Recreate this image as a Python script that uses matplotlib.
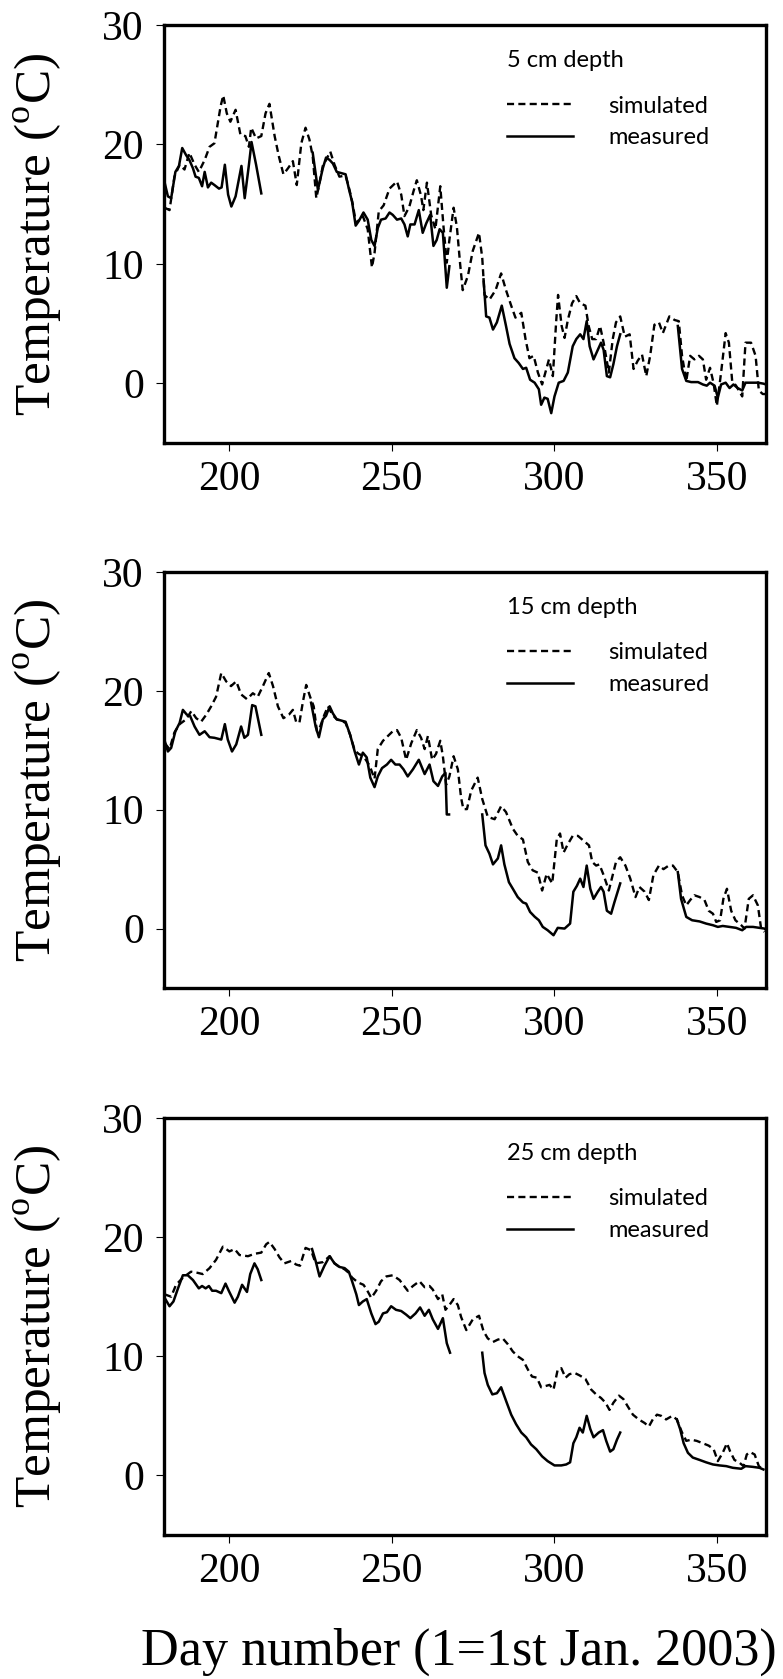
import numpy as np
import matplotlib.pyplot as plt

plt.rcParams['font.family'] = ['Liberation Serif', 'DejaVu Serif']
plt.rcParams['mathtext.fontset'] = 'custom'
plt.rcParams['mathtext.rm'] = 'Liberation Serif'

nan = float('nan')

depths = ["5 cm depth", "15 cm depth", "25 cm depth"]

# ---- 5 cm ----
sim_day_5 = [180.2, 181.7, 183.2, 184.8, 186.3, 187.8, 189.4, 190.7, 192.5, 194.0, 195.5, 197.4, 198.2, 199.3,
             200.4, 202.0, 203.5, 205.0, 206.1, 206.8, 208.3, 209.9, 211.2, 212.4, 214.0, 215.3, 216.7, 218.1,
             219.6, 220.8, 222.2, 223.5, 224.7, 225.7, 226.8, 227.6, 228.8, 229.8, 231.1, 232.4, 233.9, 235.8,
             237.0, 238.0, 239.0, 240.0, 241.1, 242.6, 243.9, 244.7, 246.0, 247.5, 249.3, 251.6, 252.9, 253.9,
             255.4, 256.7, 257.7, 259.0, 259.7, 260.8, 262.1, 263.4, 264.9, 265.9, 266.9, 267.7, 269.0, 270.0,
             271.0, 271.8, 273.4, 274.9, 276.8, 277.8, 278.5, 280.0, 281.9, 283.6, 285.1, 286.7, 288.0, 289.8,
             291.1, 292.3, 293.6, 294.9, 296.2, 297.2, 298.3, 299.5, 300.5, 301.1, 302.2, 303.1, 304.1, 305.4,
             306.7, 307.9, 309.5, 310.5, 311.6, 312.8, 314.0, 315.1, 316.7, 317.9, 318.9, 320.2, 321.6, 323.1,
             324.3, 325.6, 326.9, 328.2, 329.4, 330.7, 332.1, 333.3, 334.3, 335.3, 336.9, 338.2, 339.2, 340.5,
             341.7, 343.0, 344.4, 345.6, 346.6, 347.8, 348.9, 349.9, 351.2, 352.6, 353.6, 354.6, 355.8, 357.7,
             358.7, 360.4, 361.8, 362.8, 364.0, 365.0]
sim_t_5 = [14.7, 14.5, 17.3, 18.3, 17.9, 19.3, 18.3, 17.7, 18.7, 19.8, 20.1, 23.2, 24.1, 22.6,
           21.9, 22.9, 20.8, 20.7, 19.8, 21.4, 20.5, 20.7, 22.6, 23.4, 20.7, 19.0, 17.5, 18.0,
           18.6, 16.6, 20.1, 21.4, 20.4, 19.0, 15.5, 16.5, 18.2, 18.7, 19.4, 18.3, 17.3, 17.4,
           16.2, 15.0, 13.4, 13.7, 14.0, 12.9, 9.7, 10.9, 14.4, 14.9, 16.3, 16.9, 15.8, 14.0,
           14.8, 16.1, 17.0, 15.7, 14.5, 16.8, 14.1, 12.9, 16.5, 13.1, 10.1, 12.0, 14.7, 13.1,
           10.0, 7.8, 9.0, 11.1, 12.6, 10.5, 7.4, 7.0, 7.8, 9.2, 7.8, 6.5, 5.5, 5.9,
           3.7, 2.1, 2.3, 0.9, -0.1, 0.9, 2.0, 0.6, 5.1, 7.4, 4.8, 3.8, 5.3, 6.7,
           7.3, 6.7, 6.5, 4.8, 3.7, 3.7, 4.8, 3.4, 0.9, 3.7, 5.1, 5.6, 3.9, 4.1,
           1.2, 1.9, 2.4, 0.6, 2.3, 4.9, 5.1, 4.2, 4.9, 5.6, 5.3, 5.2, 2.3, 0.2,
           2.3, 2.0, 2.3, 2.0, 0.3, 1.3, 0.0, -1.9, 0.9, 4.2, 3.4, 0.2, -0.2, -1.1,
           3.4, 3.4, 2.3, -0.6, -0.9, -0.9]
meas_day_5 = [180.2, 181.2, 182.2, 183.5, 184.6, 185.6, 186.8, 187.8, 188.9, 189.7, 190.7, 191.7, 192.5, 193.5,
              194.5, 195.5, 196.9, 197.7, 198.7, 199.7, 200.7, 202.0, 203.8, 204.8, 206.1, 206.9, 208.3, 209.9,
              nan,
              225.7, 227.3, 228.8, 229.8, 230.9, 231.9, 233.1, 234.5, 235.8, 236.8, 237.8, 238.9, 239.9, 241.3,
              242.6, 243.7, 244.7, 245.7, 246.7, 248.1, 249.3, 250.3, 251.6, 252.9, 253.9, 254.9, 255.7, 257.0,
              258.3, 259.5, 260.6, 261.8, 262.8, 263.8, 264.7, 265.7, 266.9, 267.7,
              nan,
              278.2, 279.0, 280.0, 281.1, 282.3, 283.8, 285.1, 286.2, 287.7, 289.0, 290.3, 291.3, 292.5, 293.9,
              295.2, 295.9, 296.9, 297.9, 299.0, 300.0, 301.3, 302.8, 304.1, 305.6, 306.7, 307.9, 308.9, 309.9,
              310.8, 312.0, 313.0, 314.3, 315.1, 316.1, 317.1, 318.1, 319.2, 320.2,
              nan,
              337.9, 339.2, 340.5, 342.0, 344.1, 345.6, 346.8, 347.8, 349.2, 350.2, 351.2, 352.6, 353.8, 355.0,
              356.3, 357.7, 358.7, 360.4, 362.5, 364.2, 365.0]
meas_t_5 = [16.8, 15.65, 15.5, 17.7, 18.2, 19.7, 19.1, 18.7, 18.0, 17.3, 17.2, 16.5, 17.7, 16.4,
            16.8, 16.6, 16.3, 16.4, 18.3, 15.8, 14.8, 15.65, 18.2, 15.5, 18.3, 20.2, 18.3, 15.9,
            nan,
            19.3, 16.2, 18.0, 18.9, 18.7, 18.4, 17.7, 17.6, 17.5, 16.3, 15.2, 13.2, 13.6, 14.3,
            13.7, 12.0, 11.5, 13.0, 13.7, 13.8, 14.3, 14.1, 13.7, 13.8, 13.3, 12.3, 13.3, 13.3,
            14.5, 12.6, 13.4, 14.1, 11.5, 12.0, 12.9, 12.6, 8.0, 9.8,
            nan,
            8.7, 5.6, 5.5, 4.5, 5.1, 6.5, 4.8, 3.3, 2.1, 1.7, 1.2, 1.3, 0.3, 0.05,
            -0.5, -1.8, -1.2, -1.3, -2.5, -1.1, 0.05, 0.2, 0.9, 3.1, 3.7, 4.1, 3.7, 5.2,
            3.1, 2.0, 2.6, 3.4, 2.8, 0.6, 0.5, 1.6, 3.1, 4.1,
            nan,
            4.8, 1.2, 0.2, 0.1, 0.1, -0.1, -0.2, 0.05, -0.2, -1.2, -0.1, 0.05, -0.4, -0.1,
            -0.4, -0.6, 0.05, 0.05, 0.05, -0.03, -0.1]

# ---- 15 cm ----
sim_day_15 = [180.2, 181.7, 183.2, 184.8, 186.8, 188.4, 189.9, 191.4, 193.0, 194.5, 196.0, 197.6, 199.1, 200.6,
              202.2, 203.7, 205.5, 207.3, 208.8, 210.4, 212.2, 213.5, 215.0, 216.7, 218.4, 219.6, 220.6, 221.6,
              222.7, 223.7, 224.9, 226.0, 227.0, 228.0, 229.3, 230.4, 231.7, 233.1, 234.5, 235.8, 237.2, 238.6,
              239.8, 241.3, 243.2, 244.7, 245.7, 247.3, 248.8, 250.3, 251.6, 252.9, 254.4, 256.0, 257.7, 259.0,
              260.1, 261.1, 262.4, 263.6, 264.9, 265.7, 266.7, 267.7, 269.0, 270.3, 271.3, 272.0, 273.1, 274.4,
              276.4, 277.8, 279.5, 281.6, 283.6, 285.1, 287.2, 288.7, 290.3, 291.8, 293.3, 294.9, 296.2, 297.6,
              299.3, 300.7, 301.7, 302.8, 304.1, 305.6, 307.2, 308.9, 310.6, 311.6, 312.8, 313.8, 315.1, 316.7,
              317.9, 318.9, 320.2, 321.8, 323.3, 324.9, 326.1, 327.7, 329.0, 330.4, 332.1, 333.5, 335.1, 336.4,
              337.9, 339.2, 340.5, 341.7, 343.0, 344.6, 346.1, 347.4, 348.7, 349.7, 350.9, 351.9, 353.0, 354.3,
              355.6, 357.4, 358.4, 359.7, 361.0, 362.5, 363.5, 364.5]
sim_t_15 = [15.6, 15.1, 16.5, 17.2, 17.6, 18.3, 17.7, 17.4, 18.0, 18.7, 19.5, 21.5, 20.8, 20.4,
            20.8, 19.7, 19.3, 19.8, 19.5, 20.4, 21.5, 20.4, 18.7, 17.7, 18.0, 18.4, 17.4, 17.3,
            19.1, 20.5, 19.5, 18.7, 16.6, 17.0, 18.0, 18.7, 18.0, 17.6, 17.5, 17.3, 16.3, 15.0,
            14.7, 14.5, 13.7, 12.6, 15.1, 15.8, 16.2, 16.6, 16.7, 16.05, 14.2, 15.6, 16.7, 16.05,
            15.1, 16.2, 14.2, 14.7, 15.8, 14.5, 12.1, 12.8, 14.5, 13.4, 11.0, 10.05, 10.05, 11.6,
            12.7, 10.9, 9.4, 9.2, 10.3, 9.8, 8.4, 7.8, 7.5, 5.6, 4.9, 4.7, 3.2, 4.6,
            3.8, 7.5, 8.0, 6.4, 7.1, 7.8, 7.8, 7.4, 7.0, 5.6, 5.3, 5.4, 4.5, 3.2,
            4.5, 5.6, 6.0, 5.3, 4.2, 2.65, 3.5, 3.1, 2.4, 4.5, 5.3, 5.0, 5.3, 5.3,
            4.75, 2.8, 1.95, 2.4, 2.8, 2.65, 2.4, 1.5, 1.25, 0.56, 0.7, 2.5, 3.35, 1.5,
            0.7, 0.28, 0.0, 2.5, 2.8, 1.95, 0.0, -0.28]
meas_day_15 = [180.2, 181.2, 182.2, 183.5, 184.8, 185.8, 187.0, 188.0, 189.4, 190.9, 192.5, 194.0, 195.5, 197.6,
               198.7, 199.6, 200.9, 202.2, 203.7, 204.7, 205.8, 207.1, 208.1, 209.9,
               nan,
               225.2, 226.6, 227.6, 228.8, 229.8, 230.9, 231.9, 233.1, 234.5, 235.8, 237.2, 238.6, 239.9, 241.1,
               242.3, 243.4, 244.7, 245.7, 247.0, 248.5, 249.8, 251.1, 252.4, 253.6, 254.9, 256.5, 258.3, 260.1,
               261.6, 262.8, 264.2, 265.5, 266.5, 266.9, 267.6,
               nan,
               277.8, 278.8, 280.0, 281.1, 282.6, 283.6, 284.6, 286.0, 287.2, 288.7, 290.3, 291.3, 292.5, 293.9,
               295.2, 296.4, 297.9, 299.7, 301.0, 303.1, 304.8, 305.8, 306.9, 307.9, 308.9, 309.9, 311.0, 312.0,
               313.3, 314.3, 315.1, 316.1, 317.4, 318.4, 320.2,
               nan,
               337.9, 338.9, 340.5, 342.3, 344.6, 346.6, 348.7, 350.2, 351.7, 353.8, 355.8, 357.7, 358.9, 361.0,
               363.0, 364.5, 365.0]
meas_t_15 = [15.8, 14.9, 15.2, 16.6, 17.3, 18.4, 18.0, 17.9, 17.0, 16.3, 16.6, 16.1, 16.05, 15.9,
             17.2, 15.9, 14.9, 15.5, 17.0, 16.05, 16.3, 18.8, 18.7, 16.3,
             nan,
             19.0, 17.0, 16.1, 17.6, 17.9, 18.7, 18.1, 17.6, 17.5, 17.4, 16.3, 14.9, 13.8, 14.8,
             14.4, 12.7, 11.9, 12.8, 13.5, 13.8, 14.2, 13.8, 13.8, 13.4, 12.8, 13.4, 14.2, 13.0,
             13.8, 12.4, 12.0, 12.8, 13.1, 9.6, 9.6,
             nan,
             9.6, 7.0, 6.3, 5.4, 5.9, 7.0, 5.4, 3.9, 3.35, 2.65, 2.2, 2.1, 1.4, 1.0,
             0.7, 0.14, -0.14, -0.56, 0.06, 0.0, 0.42, 3.1, 3.6, 4.2, 3.5, 5.3, 3.35, 2.5,
             3.1, 3.5, 3.1, 1.5, 1.25, 2.2, 3.8,
             nan,
             4.75, 2.5, 0.98, 0.7, 0.6, 0.42, 0.28, 0.14, 0.22, 0.14, 0.06, -0.14, 0.14, 0.14,
             0.06, 0.0, -0.1]

# ---- 25 cm ----
sim_day_25 = [180.2, 182.2, 183.7, 185.8, 188.3, 190.4, 191.9, 194.0, 196.0, 198.1, 200.1, 201.7, 203.2, 205.8,
              207.8, 209.9, 211.4, 212.4, 214.0, 215.5, 217.0, 219.1, 220.6, 221.8, 223.5, 225.2, 226.6, 228.8,
              230.9, 232.4, 233.9, 235.5, 236.8, 237.8, 239.6, 241.3, 242.3, 243.7, 245.2, 246.7, 248.3, 250.3,
              252.4, 254.9, 256.5, 258.5, 260.1, 261.6, 262.6, 264.2, 265.5, 266.5, 267.7, 269.0, 270.3, 271.3,
              272.9, 274.9, 276.8, 278.2, 279.5, 281.1, 282.6, 284.1, 285.7, 287.2, 288.7, 290.3, 291.8, 293.1,
              294.6, 295.9, 297.2, 298.5, 299.7, 301.0, 302.1, 303.4, 304.6, 306.2, 307.7, 309.5, 311.3, 312.8,
              314.3, 315.7, 316.9, 318.1, 319.8, 321.2, 322.5, 324.1, 325.9, 327.7, 329.0, 330.2, 331.5, 332.8,
              334.3, 336.2, 337.6, 339.2, 340.5, 342.0, 343.7, 345.6, 347.4, 348.9, 350.2, 351.7, 353.0, 354.0,
              355.3, 356.7, 358.1, 359.1, 360.1, 361.5, 362.8, 364.0]
sim_t_25 = [15.2, 15.0, 16.0, 16.6, 17.1, 17.0, 16.9, 17.4, 18.1, 19.2, 18.8, 19.0, 18.5, 18.4,
            18.6, 18.7, 19.4, 19.6, 19.0, 18.3, 17.8, 18.0, 17.7, 17.6, 19.1, 18.9, 17.8, 17.9,
            18.4, 17.8, 17.5, 17.3, 17.0, 16.6, 16.2, 16.0, 15.6, 14.9, 15.5, 16.3, 16.7, 16.8,
            16.4, 15.5, 15.9, 16.3, 15.8, 15.9, 15.6, 14.8, 15.2, 13.9, 14.3, 14.8, 14.3, 13.3,
            12.2, 13.1, 13.4, 12.1, 11.5, 11.2, 11.4, 11.5, 11.0, 10.4, 10.0, 9.7, 8.9, 8.3,
            8.2, 7.4, 7.5, 7.6, 7.2, 8.9, 9.0, 8.2, 8.5, 8.6, 8.4, 8.1, 7.2, 6.8,
            6.5, 6.1, 5.5, 6.1, 6.7, 6.4, 5.8, 5.1, 4.7, 4.4, 4.1, 4.7, 5.1, 5.0,
            4.7, 5.0, 4.7, 3.6, 2.9, 3.0, 2.9, 2.7, 2.5, 2.2, 1.2, 1.9, 2.7, 2.0,
            1.3, 1.1, 0.78, 1.76, 1.96, 1.76, 0.78, 0.5]
meas_day_25 = [180.2, 181.7, 182.9, 184.3, 185.8, 187.3, 188.9, 190.7, 191.7, 192.8, 193.8, 194.8, 196.0, 197.6,
               198.9, 199.9, 201.7, 202.7, 204.0, 205.5, 206.5, 207.8, 208.8, 209.9,
               nan,
               225.5, 226.6, 227.8, 229.3, 230.9, 232.4, 233.9, 235.5, 236.8, 237.8, 239.1, 239.9, 241.1, 242.3,
               243.7, 245.0, 246.0, 247.3, 248.5, 249.8, 251.3, 252.9, 254.4, 255.7, 257.3, 258.7, 260.1, 261.4,
               262.6, 264.2, 265.7, 266.9, 267.9,
               nan,
               277.8, 278.5, 279.5, 280.9, 282.3, 283.6, 285.2, 286.7, 288.2, 289.8, 291.3, 292.8, 294.4, 296.2,
               297.9, 300.0, 302.1, 303.6, 304.8, 305.8, 306.7, 307.7, 308.7, 309.9, 311.0, 312.0, 313.6, 314.9,
               315.9, 317.1, 318.1, 319.2, 320.2,
               nan,
               337.6, 338.6, 339.7, 341.0, 342.5, 344.6, 346.6, 348.7, 350.7, 352.8, 354.8, 357.4, 358.7, 360.9,
               363.0, 364.2]
meas_t_25 = [14.9, 14.2, 14.6, 15.7, 16.8, 16.8, 16.4, 15.7, 15.9, 15.7, 15.9, 15.5, 15.5, 15.3,
             16.1, 15.5, 14.5, 15.0, 16.0, 15.4, 16.9, 17.8, 17.3, 16.4,
             nan,
             19.0, 18.0, 16.7, 17.6, 18.4, 17.8, 17.5, 17.4, 17.1, 16.3, 15.2, 14.3, 14.6, 14.8,
             13.6, 12.7, 12.9, 13.6, 13.7, 14.2, 13.9, 13.8, 13.5, 13.2, 13.6, 14.1, 13.4, 13.9,
             13.1, 12.3, 13.2, 11.1, 10.3,
             nan,
             10.3, 8.6, 7.6, 6.8, 6.9, 7.4, 6.2, 5.1, 4.3, 3.6, 3.2, 2.6, 2.2, 1.6,
             1.2, 0.84, 0.84, 0.92, 1.1, 2.7, 3.2, 4.0, 3.6, 5.0, 3.9, 3.2, 3.6, 3.8,
             2.9, 2.0, 2.2, 3.0, 3.6,
             nan,
             4.7, 3.9, 2.7, 1.9, 1.5, 1.3, 1.1, 0.92, 0.84, 0.78, 0.64, 0.56, 0.78, 0.72,
             0.64, 0.5]

sim_days = [sim_day_5, sim_day_15, sim_day_25]
sim_temps = [sim_t_5, sim_t_15, sim_t_25]
meas_days = [meas_day_5, meas_day_15, meas_day_25]
meas_temps = [meas_t_5, meas_t_15, meas_t_25]

xticks = [200, 250, 300, 350]
yticks = [0, 10, 20, 30]

W, H = 783, 1679
fig = plt.figure(figsize=(W / 100, H / 100), dpi=100)

# axes boxes in pixels: (top, bottom)
boxes = [(25, 443), (572, 988), (1118, 1535)]
left, right = 164, 766
legend_font = {'family': 'Lato', 'size': 17}

for i, (top, bot) in enumerate(boxes):
    ax = fig.add_axes([left / W, 1 - bot / H, (right - left) / W, (bot - top) / H])
    ls_sim, = ax.plot(sim_days[i], sim_temps[i], color='black', lw=1.7,
                      linestyle=(0, (3, 1.8)), label='simulated')
    ls_meas, = ax.plot(meas_days[i], meas_temps[i], color='black', lw=1.8,
                       linestyle='-', label='measured')
    ax.set_xlim(180, 365)
    ax.set_ylim(-5, 30)
    ax.set_xticks(xticks)
    ax.set_yticks(yticks)
    for s in ax.spines.values():
        s.set_linewidth(2.4)
    ax.tick_params(direction='out', length=5.5, width=0.8, labelsize=30, pad=7)
    ax.tick_params(axis='y', pad=9)
    ax.set_ylabel(r'Temperature ($^{\mathrm{o}}$C)', fontsize=37)
    ax.yaxis.set_label_coords(-0.166, 0.5)

    ax.text(0.57, 0.914, depths[i], transform=ax.transAxes, ha='left', va='center',
            color='black', **legend_font)
    ax.legend(handles=[ls_sim, ls_meas], loc='center left', bbox_to_anchor=(0.57, 0.768),
              frameon=False, borderpad=0, borderaxespad=0, handlelength=2.8,
              handletextpad=1.5, labelspacing=0.45, prop=legend_font)

fig.text(459 / W, 14 / H, 'Day number (1=1st Jan. 2003)', ha='center',
         va='baseline', fontsize=37.5)

fig.savefig('out.png', dpi=100)
